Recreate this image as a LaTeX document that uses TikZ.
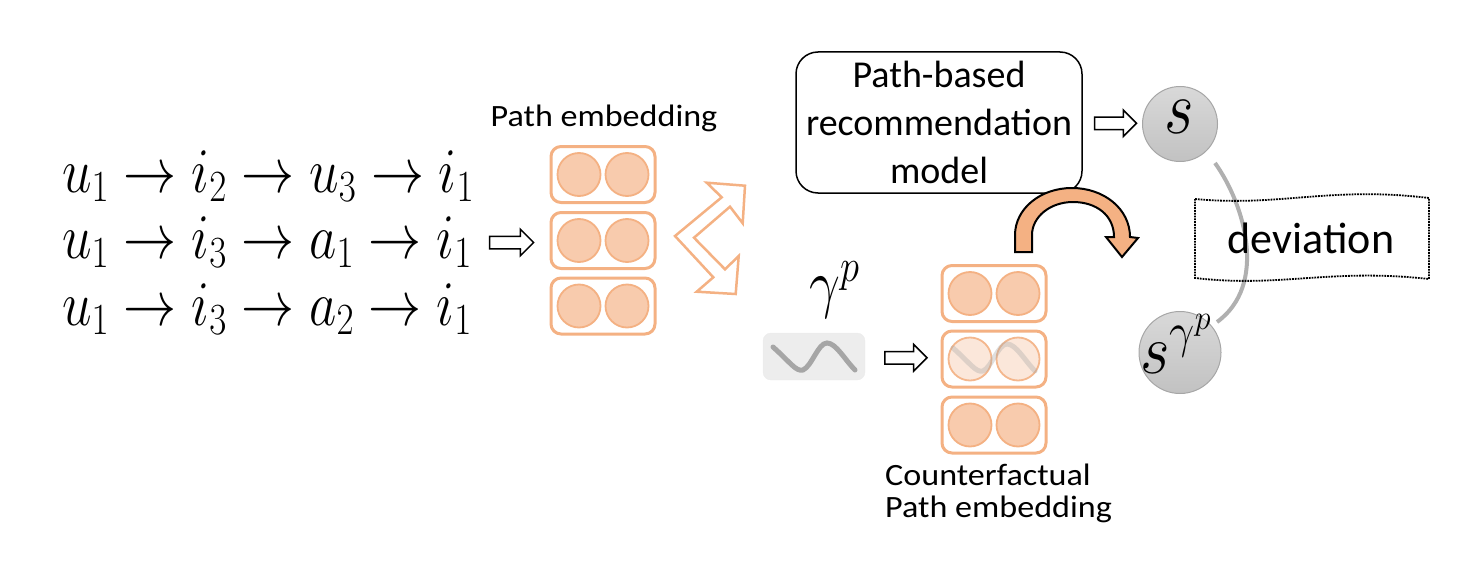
\documentclass[tikz,border=0pt]{standalone}
\usepackage{fix-cm}
\usepackage{graphicx}
\usepackage{fontspec}
\setmainfont{Carlito}
\newfontfamily\lblfont[FakeStretch=1.1]{Carlito}
\usetikzlibrary{calc,shapes.arrows}
\definecolor{embfill}{HTML}{F8CBAD}
\definecolor{embline}{HTML}{F4B183}
\definecolor{arrowor}{HTML}{F4B183}
\definecolor{wavegray}{HTML}{A6A6A6}
\definecolor{boxgray}{HTML}{EDEDED}
\definecolor{arcgray}{HTML}{B0B0B0}
\newcommand{\tallmath}[1]{\scalebox{1}[1.2]{$#1$}}
\newcommand{\midmath}[1]{\scalebox{1}[1.1]{$#1$}}
\tikzset{
  mathline/.style={inner sep=0pt, anchor=base west, font=\fontsize{53}{60}\selectfont},
  lbl/.style={inner sep=0pt, font=\lblfont\fontsize{31}{32}\selectfont},
  embbox/.style={draw=embline, line width=3pt, rounded corners=10pt, minimum width=104pt, minimum height=56pt, inner sep=0pt, fill=white},
  embdot/.style={circle, draw=embline, line width=1.8pt, fill=embfill, minimum size=43pt, inner sep=0pt},
  fadedot/.style={embdot, fill opacity=0.45, draw opacity=0.9},
  hollow/.style={single arrow, draw=black, line width=1.5pt, fill=white, inner sep=5.5pt, single arrow head extend=7pt, minimum height=42pt, anchor=center},
  modelbox/.style={draw=black, line width=1.5pt, rounded corners=22pt, minimum width=286pt, minimum height=141pt, align=center, font=\fontsize{38}{48}\selectfont},
  score/.style={circle, draw=gray!70, line width=1pt, top color=gray!30, bottom color=gray!48, minimum size=75pt, inner sep=0pt},
  wavestroke/.style={draw=wavegray, line width=5pt, line cap=round},
  embrow/.pic={
    \node[embbox] (-box) at (0,0) {};
    \node[embdot] (-l) at (-24,0) {};
    \node[embdot] (-r) at (24,0) {};
  },
  fadedrow/.pic={
    \node[embbox] (-box) at (0,0) {};
    \node[fadedot] (-l) at (-24,0) {};
    \node[fadedot] (-r) at (24,0) {};
  },
  wavepic/.pic={
    \draw[wavestroke] (0,0) .. controls (17,15) and (23,25) .. (30,23) .. controls (39,19) and (45,-4) .. (54,-4) .. controls (63,-4) and (72,13) .. (82,23);
  }
}
\begin{document}
\begin{tikzpicture}[x=1pt,y=-1pt]
\useasboundingbox (0,0) rectangle (1480,578);

% path lines
\node[mathline] (p1) at (62,192) {\tallmath{u_1 \rightarrow i_2 \rightarrow u_3 \rightarrow i_1}};
\node[mathline] (p2) at (62,258) {\tallmath{u_1 \rightarrow i_3 \rightarrow a_1 \rightarrow i_1}};
\node[mathline] (p3) at (62,325) {\tallmath{u_1 \rightarrow i_3 \rightarrow a_2 \rightarrow i_1}};

% path embedding stack
\node[lbl] (pe) at (604,118) {Path embedding};
\pic (e1) at (603,174.5) {embrow};
\pic (e2) at (603,240.5) {embrow};
\pic (e3) at (603,306) {embrow};

\node[hollow, minimum height=44pt] (a1) at ($(e2-box.west)+(-41,2)$) {};

% split arrow
\draw[draw=arrowor, line width=2.5pt, fill=white, line join=miter]
  (675,236) -- (721.7,197.3) -- (706.7,182.7) -- (745,185.7) -- (742.7,223.3) -- (730,206.7)
  -- (694,237.7) -- (725,269.3) -- (738.7,256) -- (735.7,294) -- (696.7,291.7) -- (713.3,277.3) -- cycle;

% model box
\node[modelbox] (model) at (939,122.5) {Path-based\\recommendation\\model};

% scores
\node[score] (s) at (1180,124) {};
\node[inner sep=0pt, font=\fontsize{64}{66}\selectfont] (stxt) at (1179,117) {\tallmath{s}};
\node[score, minimum size=82pt] (sg) at (1180,352.5) {};
\node[inner sep=0pt, anchor=base west, font=\fontsize{64}{66}\selectfont] (sgtxt) at (1140,373) {\midmath{s^{\gamma^{p}}}};

\node[hollow] (a3) at ($(model.east)!0.5!(s.west)$) {};

% gamma
\node[inner sep=0pt, anchor=base west, font=\fontsize{55}{60}\selectfont] (gam) at (809,305) {\tallmath{\gamma^{p}}};
\node[draw=gray!15, fill=boxgray, rounded corners=8pt, minimum width=102pt, minimum height=47pt, inner sep=0pt] (gbox) at (814,356.5) {};
\pic at (773,347) {wavepic};

% counterfactual stack
\pic (c1) at (994,293.5) {embrow};
\pic (c2) at (994,359) {fadedrow};
\pic (c3) at (994,425) {embrow};
\begin{scope}[opacity=0.35]
\pic at (953,348) {wavepic};
\end{scope}
\node[lbl, align=left, anchor=base west] (cft) at (885,517) {Counterfactual\\Path embedding};

\node[hollow] (a2) at ($(gbox.east)!0.5!(c2-box.west)$) {};

% deviation arc
\draw[draw=arcgray, line width=4pt] ($(s.center)+(35,39)$) .. controls (1245,205) and (1268,285) .. ($(sg.center)+(37,-30.5)$);

% deviation box
\node[inner sep=0pt, font=\fontsize{44}{50}\selectfont] (dev) at (1311,238) {deviation};
\draw[densely dotted, line width=1.8pt]
  (1195,199) .. controls (1280,207) and (1330,186) .. (1429,198)
  -- (1429,279) .. controls (1330,268) and (1280,288) .. (1195,278) -- cycle;

% orange curved arrow
\draw[fill=arrowor, draw=black, line width=2pt, line join=miter]
  (1015,252) -- (1015,235) .. controls (1015,209) and (1040,188) .. (1072,188)
  .. controls (1104,188) and (1130,209) .. (1130,237) -- (1138,238) -- (1122,257) -- (1106,237) -- (1114,237)
  .. controls (1114,215) and (1096,202) .. (1073,202) .. controls (1050,202) and (1032,217) .. (1032,235)
  -- (1032,252) -- cycle;
\end{tikzpicture}
\end{document}
